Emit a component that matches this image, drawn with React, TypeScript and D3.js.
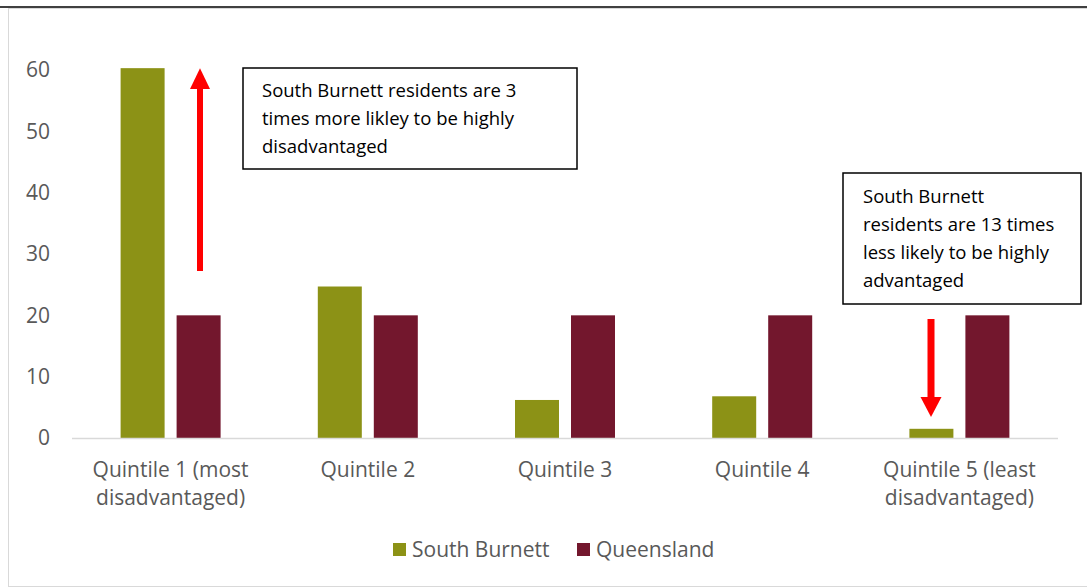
import React from "react";
import * as d3 from "d3";

const categories: string[][] = [
  ["Quintile 1 (most", "disadvantaged)"],
  ["Quintile 2"],
  ["Quintile 3"],
  ["Quintile 4"],
  ["Quintile 5 (least", "disadvantaged)"],
];
const southBurnett: number[] = [60.3, 24.7, 6.2, 6.8, 1.5];
const queensland: number[] = [20, 20, 20, 20, 20];
const seriesNames: string[] = ["South Burnett", "Queensland"];
const seriesColors: string[] = ["#8c9216", "#73172d"];
const yTicks: number[] = [0, 10, 20, 30, 40, 50, 60];
const noteHigh: string[] = [
  "South Burnett residents are 3",
  "times more likley to be highly",
  "disadvantaged",
];
const noteLow: string[] = [
  "South Burnett",
  "residents are 13 times",
  "less likely to be highly",
  "advantaged",
];

const W = 1087;
const H = 588;
const FONT = "'Open Sans', 'Noto Sans', sans-serif";

export default function App() {
  const x = d3
    .scaleBand<number>()
    .domain(d3.range(categories.length))
    .range([72, 1058]);
  const y = d3.scaleLinear().domain([0, 60]).range([438, 70]);
  const barW = 44;
  const gap = 12;
  const values = [southBurnett, queensland];

  const arrowUpX = 200;
  const arrowDownX = 931;

  return (
    <svg
      width={W}
      height={H}
      style={{ position: "absolute", left: 0, top: 0, background: "#fff" }}
      fontFamily={FONT}
    >
      {/* frame */}
      <rect x={8.5} y={8.5} width={W} height={578} fill="#fff" stroke="#d9d9d9" />
      <line x1={0} x2={W} y1={7} y2={7} stroke="#404040" strokeWidth={2} />

      {/* y tick labels */}
      {yTicks.map((t) => (
        <text
          key={t}
          x={50}
          y={y(t)}
          dy="0.35em"
          textAnchor="end"
          fontSize={21}
          fill="#595959"
        >
          {t}
        </text>
      ))}

      {/* bars */}
      {categories.map((_, i) => {
        const cx = (x(i) as number) + x.bandwidth() / 2;
        return values.map((vals, s) => {
          const bx = s === 0 ? cx - gap / 2 - barW : cx + gap / 2;
          return (
            <rect
              key={`${i}-${s}`}
              x={bx}
              y={y(vals[i])}
              width={barW}
              height={y(0) - y(vals[i])}
              fill={seriesColors[s]}
            />
          );
        });
      })}

      {/* baseline */}
      <line x1={72} x2={1058} y1={y(0) + 0.5} y2={y(0) + 0.5} stroke="#d9d9d9" strokeWidth={1.5} />

      {/* category labels */}
      {categories.map((lines, i) => {
        const cx = (x(i) as number) + x.bandwidth() / 2;
        return (
          <text key={i} textAnchor="middle" fontSize={21} fill="#595959">
            {lines.map((l, j) => (
              <tspan key={j} x={cx} y={477 + j * 28}>
                {l}
              </tspan>
            ))}
          </text>
        );
      })}

      {/* arrows */}
      <g fill="#ff0000">
        <rect x={arrowUpX - 3} y={89} width={6} height={271 - 89} />
        <path d={`M${arrowUpX},${y(60.3)} L${arrowUpX + 10},${89} L${arrowUpX - 10},${89} Z`} />
        <rect x={arrowDownX - 3.5} y={319} width={7} height={398 - 319} />
        <path d={`M${arrowDownX},417 L${arrowDownX + 10.5},397 L${arrowDownX - 10.5},397 Z`} />
      </g>

      {/* annotation boxes */}
      <rect x={243} y={68} width={334} height={101} fill="#fff" stroke="#000" strokeWidth={1.5} />
      <text fontSize={18.5} fill="#000">
        {noteHigh.map((l, j) => (
          <tspan key={j} x={262} y={97 + j * 28}>
            {l}
          </tspan>
        ))}
      </text>
      <rect x={843} y={173} width={238} height={131} fill="#fff" stroke="#000" strokeWidth={1.5} />
      <text fontSize={18.5} fill="#000">
        {noteLow.map((l, j) => (
          <tspan key={j} x={863} y={203 + j * 28}>
            {l}
          </tspan>
        ))}
      </text>

      {/* legend */}
      {seriesNames.map((name, s) => {
        const lx = s === 0 ? 393 : 577;
        return (
          <g key={name}>
            <rect x={lx} y={543} width={13} height={13} fill={seriesColors[s]} />
            <text x={lx + 19} y={550} dy="0.35em" fontSize={21} fill="#595959">
              {name}
            </text>
          </g>
        );
      })}
    </svg>
  );
}
